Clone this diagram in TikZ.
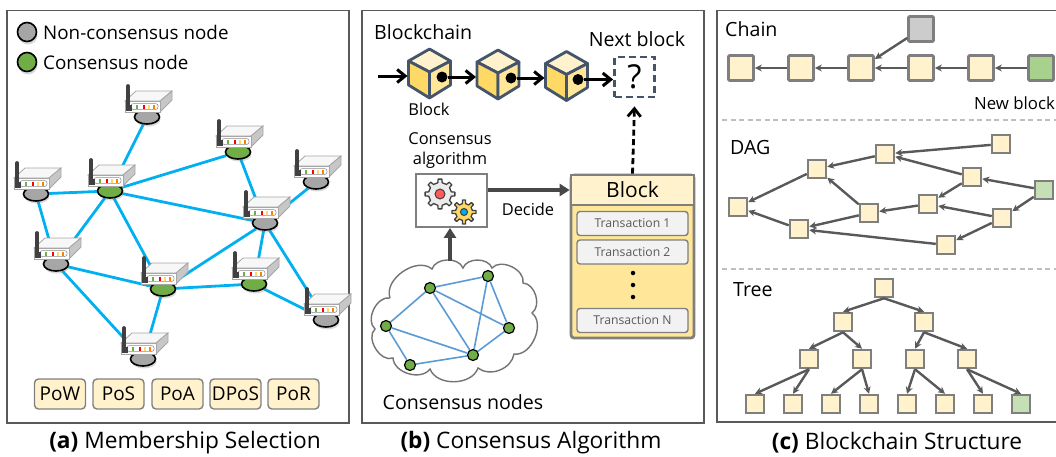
\documentclass[tikz,border=0pt]{standalone}
\usepackage{fontspec}
\setmainfont{Open Sans}
\usetikzlibrary{arrows.meta,backgrounds,shadows,calc,shapes.geometric}
\definecolor{framegray}{HTML}{595959}
\definecolor{boxgray}{HTML}{7F7F7F}
\definecolor{wheat}{HTML}{FFF2CC}
\definecolor{sand}{HTML}{FFE699}
\definecolor{gold}{HTML}{FFD966}
\definecolor{slate}{HTML}{44546A}
\definecolor{leaf}{HTML}{70AD47}
\definecolor{leaflight}{HTML}{A9D18E}
\definecolor{leafpale}{HTML}{C5E0B4}
\definecolor{stone}{HTML}{A6A6A6}
\definecolor{wire}{HTML}{00B0F0}
\definecolor{mesh}{HTML}{5B9BD5}
\tikzset{
  panel/.style={draw=framegray,line width=1.8pt},
  textlabel/.style={inner sep=0pt,font=\fontsize{19.6}{23}\selectfont},
  legendlabel/.style={inner sep=0pt,font=\fontsize{18.8}{22}\selectfont},
  smalllabel/.style={inner sep=0pt,align=center,font=\fontsize{16.4}{20}\selectfont},
  caption/.style={inner sep=0pt,font=\fontsize{22.7}{26}\selectfont},
  disc/.style={ellipse,draw=black,line width=1.6pt,minimum width=25pt,minimum height=14pt,inner sep=0pt,
    drop shadow={shadow xshift=1pt,shadow yshift=-2.5pt,opacity=.3}},
  legenddot/.style={circle,draw=black,line width=1.6pt,minimum size=19pt,inner sep=0pt,
    drop shadow={shadow xshift=1pt,shadow yshift=-3pt,opacity=.3}},
  link/.style={draw=wire,line width=2.8pt},
  member/.style={draw=boxgray,fill=wheat,line width=1.4pt,rounded corners=4pt,minimum width=51pt,minimum height=30pt,
    inner sep=0pt,font=\fontsize{19}{22}\selectfont},
  chainarrow/.style={black,line width=3pt,-{Straight Barb[length=8pt,width=13pt,line width=3pt]}},
  thickarrow/.style={draw=framegray!80!black,line width=3.6pt,-{Triangle[length=10pt,width=12pt]}},
  dot/.style={circle,fill=black,minimum size=11pt,inner sep=0pt},
  txbox/.style={draw=boxgray,fill=black!5,line width=1.4pt,rounded corners=3pt,minimum width=111pt,minimum height=24pt,
    inner sep=0pt,text=framegray,font=\fontsize{12.2}{14}\selectfont},
  vdot/.style={circle,fill=black,minimum size=4.5pt,inner sep=0pt},
  peer/.style={circle,draw=black,fill=leaf,line width=1.2pt,minimum size=11pt,inner sep=0pt},
  meshlink/.style={draw=mesh,line width=1.6pt},
  blockbig/.style={draw=boxgray,fill=wheat,line width=2.7pt,minimum size=25pt,inner sep=0pt,rounded corners=1pt},
  blockmid/.style={draw=boxgray,fill=wheat,line width=2.5pt,minimum size=18pt,inner sep=0pt},
  refer/.style={draw=framegray,line width=2.4pt,-{Stealth[length=7pt,width=7pt]}},
  sepline/.style={draw=black!25,line width=1.1pt,dash pattern=on 5pt off 3.5pt},
  pics/router/.style={code={
    \draw[draw=stone,fill=black!3,line width=.8pt] (-22,-16) -- (-11,-26) -- (25,-26) -- (13,-16) -- cycle;
    \draw[draw=stone,fill=black!22,line width=.8pt] (13,-16) -- (25,-26) -- (25,-17) -- (13,-5) -- cycle;
    \draw[draw=stone,fill=black!1,line width=.8pt] (-22,-16) rectangle (13,-5);
    \draw[draw=black!45,fill=white,line width=.5pt,rounded corners=2.5pt] (-16,-13.5) rectangle (11,-7.5);
    \foreach \x/\c in {-10/leaf,-3.5/red,1.5/gold,7/orange}
      \fill[\c] (\x-1,-12.5) rectangle (\x+1,-8.5);
    \draw[black!75,line width=3.8pt,line cap=round] (-19,-31) -- (-19,-9);
    \fill[black!75] (-21,-12) rectangle (-15,-6.5);
  }},
  pics/cube/.style={code={
    \draw[slate,fill=wheat,line width=2.8pt,line join=round] (0,-24) -- (21,-12) -- (0,-1) -- (-21,-12) -- cycle;
    \draw[slate,fill=gold,line width=2.8pt,line join=round] (-21,-12) -- (0,-1) -- (0,25) -- (-21,12) -- cycle;
    \draw[slate,fill=sand,line width=2.8pt,line join=round] (21,-12) -- (0,-1) -- (0,25) -- (21,12) -- cycle;
    \coordinate (-west) at (-22,0);
  }},
  pics/gear/.style args={#1/#2/#3/#4}{code={
    \draw[draw=black!75,fill=#2,line width=1.3pt,line join=round]
      (-11:#1) \foreach \a in {0,45,...,315} {
        -- (\a-11:#1) -- (\a-7:#1+3.5) -- (\a+7:#1+3.5) -- (\a+11:#1) -- (\a+34:#1) } -- cycle;
    \draw[draw=black!75,fill=#3,line width=1pt] (0,0) circle [radius=#4];
  }},
}
\begin{document}
\begin{tikzpicture}[x=1pt,y=-1pt]
  \useasboundingbox (0,0) rectangle (1056,456);

  % panel a
  \draw[panel] (7,10.5) rectangle (349,423);
  \node[legenddot,fill=stone] (legendgray) at (27,32) {};
  \node[legenddot,fill=leaf] (legendgreen) at (27,62) {};
  \node[legendlabel,anchor=west] (legendgraytext) at (43,32) {Non-consensus node};
  \node[legendlabel,anchor=west] (legendgreentext) at (43,62) {Consensus node};

  \foreach \name/\x/\y/\col in {r1/147/117/stone,r2/238/152/leaf,r3/316/182/stone,r4/36/194/stone,
      r5/110/191/leaf,r6/265/223/stone,r7/56/264/stone,r8/163/289/leaf,r9/254/284/leaf,
      r10/326/320/stone,r11/143/359/stone} {
    \node[disc,fill=\col] (\name) at (\x,\y) {};
    \pic at (\name) {router};
  }
  \begin{scope}[on background layer]
    \foreach \a/\b in {r1/r5,r4/r5,r5/r2,r5/r6,r2/r6,r3/r6,r4/r7,r5/r7,r5/r8,r6/r8,r6/r9,r6/r10,
        r7/r8,r7/r11,r8/r9,r8/r11,r9/r10}
      \draw[link] (\a) -- (\b);
  \end{scope}

  \node[member] (pow) at (60,394) {PoW};
  \node[member] (pos) at (118.5,394) {PoS};
  \node[member] (poa) at (177.5,394) {PoA};
  \node[member] (dpos) at (235.5,394) {DPoS};
  \node[member] (por) at (293.5,394) {PoR};

  \node[caption] (capa) at (185,443) {\textbf{(a)} Membership Selection};

  % panel b
  \draw[panel] (362,10.5) rectangle (704,423);
  \node[textlabel,anchor=west] (blockchain) at (374,32) {Blockchain};
  \pic (cube1) at (429.5,73) {cube};
  \pic (cube2) at (498,74) {cube};
  \pic (cube3) at (566.5,75.5) {cube};
  \node[dot] (dot1) at (442,77) {};
  \node[dot] (dot2) at (511,78) {};
  \node[dot] (dot3) at (578,79.5) {};
  \node[draw=slate,line width=2.8pt,dash pattern=on 7pt off 4pt,minimum size=40pt,inner sep=0pt,
    font=\fontsize{33}{36}\selectfont] (next) at (634.5,77) {?};
  \coordinate (chainstart) at (378,76);
  \draw[chainarrow] (chainstart) -- (cube1-west |- chainstart);
  \draw[chainarrow] (dot1) -- (cube2-west |- dot1);
  \draw[chainarrow] (dot2) -- (cube3-west |- dot2);
  \draw[chainarrow] (dot3) -- (next.west |- dot3);
  \node[smalllabel] (blocklabel) at (429,109) {Block};
  \node[textlabel] (nextlabel) at (637,39) {Next block};

  \node[smalllabel] (algolabel) at (450,151) {Consensus\\algorithm};
  \node[draw=boxgray,fill=white,line width=1.8pt,minimum width=71pt,minimum height=53pt,inner sep=0pt] (algo) at (451.5,200.5) {};
  \pic at (440,194) {gear=11.5/black!8/red!65/5};
  \pic at (464,212) {gear=8.5/gold/cyan/3.5};

  \node[draw=boxgray,fill=sand,line width=2.7pt,rounded corners=3pt,minimum width=123pt,minimum height=163pt,inner sep=0pt] (block) at (632.5,256.5) {};
  \node[draw=boxgray,fill=wheat,line width=2.7pt,minimum width=123pt,minimum height=30pt,inner sep=0pt,
    font=\fontsize{21}{24}\selectfont] (blockhead) at (632.5,190) {Block};
  \node[txbox] (tx1) at (632.5,223.5) {Transaction 1};
  \node[txbox] (tx2) at (632.5,252) {Transaction 2};
  \node[txbox] (txn) at (632.5,320.5) {Transaction N};
  \node[vdot] (vdot1) at (633,273) {};
  \node[vdot] (vdot2) at (633,285) {};
  \node[vdot] (vdot3) at (633,297) {};

  \draw[thickarrow] (algo.east |- blockhead) -- (blockhead.west);
  \node[smalllabel] (decide) at (528,209) {Decide};
  \draw[line width=2.8pt,black,dash pattern=on 6pt off 3.5pt,-{Straight Barb[length=8pt,width=13pt,line width=2.8pt]}] (blockhead.north) -- ($(next.south)+(0,8)$);

  \draw[draw=black!55,line width=1.4pt,fill=white] (390,298) to[bend left=75] (432,269) to[bend left=70] (463,268)
    to[bend left=70] (492,268) to[bend left=75] (523,283) to[bend left=70] (532,313) to[bend left=75] (514,354)
    to[bend left=60] (478,368) to[bend left=70] (430,369) to[bend left=70] (393,358) to[bend left=80] (375,329)
    to[bend left=75] (390,298);
  \coordinate (cloudtop) at (450,261);
  \draw[thickarrow] (cloudtop) -- (cloudtop |- algo.south);

  \node[peer] (c1) at (430,288) {};
  \node[peer] (c2) at (488,276) {};
  \node[peer] (c3) at (509,328) {};
  \node[peer] (c4) at (473,355) {};
  \node[peer] (c5) at (410,365) {};
  \node[peer] (c6) at (386,326) {};
  \foreach \a/\b in {c1/c2,c1/c6,c1/c4,c1/c3,c2/c3,c2/c4,c3/c4,c4/c5,c4/c6,c5/c6}
    \draw[meshlink] (\a) -- (\b);
  \node[textlabel] (cloudlabel) at (463,402) {Consensus nodes};

  \node[caption] (capb) at (531,443) {\textbf{(b)} Consensus Algorithm};

  % panel c
  \draw[panel] (1060,10.5) -- (717,10.5) -- (717,422) -- (1060,422);
  \node[textlabel,anchor=west] (chainlabel) at (725,29) {Chain};
  \foreach \name/\x/\col in {b1/741/wheat,b2/801/wheat,b3/861/wheat,b4/921/wheat,b5/981/wheat,b6/1041/leaflight}
    \node[blockbig,fill=\col] (\name) at (\x,68) {};
  \node[blockbig,fill=black!20] (fork) at (921,29) {};
  \foreach \a/\b in {b6/b5,b5/b4,b4/b3,b3/b2,b2/b1,fork/b3}
    \draw[refer] (\a) -- (\b);
  \node[inner sep=0pt,anchor=west,font=\fontsize{16.8}{20}\selectfont] (newblock) at (974,103) {New block};
  \coordinate (sep1a) at (722,120);
  \coordinate (sep1b) at (1056,120);
  \draw[sepline] (sep1a) -- (sep1b);

  \node[textlabel,anchor=west] (daglabel) at (730,147) {DAG};
  \foreach \name/\x/\y in {d1/738/207,d2/817/169,d3/885/154,d4/1001/144,d5/972/177,d7/928/204,
      d8/869/213,d9/799/229,d10/1002/218,d11/946/245}
    \node[blockmid] (\name) at (\x,\y) {};
  \node[blockmid,fill=leafpale] (d6) at (1044,190) {};
  \foreach \a/\b in {d2/d1,d3/d2,d4/d3,d5/d3,d6/d5,d5/d7,d7/d8,d8/d2,d8/d9,d9/d1,d10/d7,d6/d10,d10/d11,d11/d9}
    \draw[refer] (\a) -- (\b);
  \coordinate (sep2a) at (722,269);
  \coordinate (sep2b) at (1056,269);
  \draw[sepline] (sep2a) -- (sep2b);

  \node[textlabel,anchor=west] (treelabel) at (733,290) {Tree};
  \foreach \name/\x/\y in {t0/884/288,t1/843/322,t2/924/322,t3/809/359,t4/862/359,t5/915/359,t6/967/359,
      l1/755/404,l2/793/404,l3/831/404,l4/869/404,l5/907/404,l6/945/404,l7/983/404}
    \node[blockmid] (\name) at (\x,\y) {};
  \node[blockmid,fill=leafpale] (l8) at (1021,404) {};
  \foreach \a/\b in {t0/t1,t0/t2,t1/t3,t1/t4,t2/t5,t2/t6,t3/l1,t3/l2,t4/l3,t4/l4,t5/l5,t5/l6,t6/l7,t6/l8}
    \draw[refer] (\a.south) -- (\b.north);

  \node[caption] (capc) at (897,443) {\textbf{(c)} Blockchain Structure};
\end{tikzpicture}
\end{document}
